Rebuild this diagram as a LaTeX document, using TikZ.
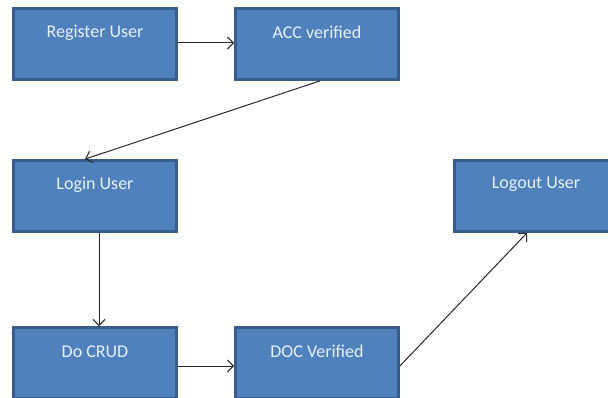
\documentclass[tikz,border=0pt]{standalone}
\usepackage{fontspec}
\setmainfont{Carlito}
\usetikzlibrary{arrows.meta,calc}
\definecolor{boxfill}{HTML}{4F81BD}
\definecolor{boxline}{HTML}{385D8A}
\definecolor{boxtext}{HTML}{EAF0F8}
\definecolor{arr}{HTML}{262626}
\tikzset{
  box/.style={draw=boxline, line width=2.8pt, fill=boxfill, minimum width=163pt, minimum height=71pt, inner sep=0pt},
  txt/.style={text=boxtext, font=\fontsize{18}{21}\selectfont, anchor=center, yshift=-25.5pt, inner sep=0pt},
  conn/.style={draw=arr, line width=1pt, -{Straight Barb[length=6pt,width=12pt,line width=1pt]}}
}
\begin{document}
\begin{tikzpicture}[x=1pt,y=-1pt]
\useasboundingbox (0,0) rectangle (608,398);
\clip (0,0) rectangle (608,398);
\node[box, label={[txt]north:Register User}] (r) at (95,44) {};
\node[box, label={[txt]north:ACC verified}] (a) at (317,44) {};
\node[box, label={[txt]north:Login User}] (l) at (95,196) {};
\node[box, label={[txt]north:Logout User}] (o) at (536,196) {};
\node[box, label={[txt]north:Do CRUD}] (d) at (95,363) {};
\node[box, label={[txt]north:DOC Verified}] (v) at (317,363) {};
\draw[conn] ($(r.east)+(0,-1)$) -- ($(a.west)+(0,-1)$);
\draw[conn] ($(a.south)+(3,0)$) -- ($(l.north)+(-10,0)$);
\draw[conn] ($(l.south)+(4,0)$) -- ($(d.north)+(4,0)$);
\draw[conn] ($(d.east)+(0,3)$) -- ($(v.west)+(0,3)$);
\draw[conn] ($(v.east)+(0,3)$) -- ($(o.south)+(-9,0)$);
\end{tikzpicture}
\end{document}
